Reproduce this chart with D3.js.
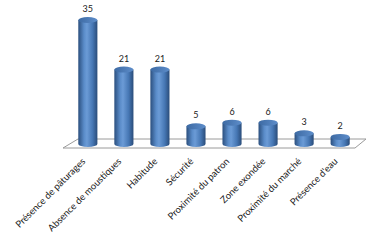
<!DOCTYPE html>
<html>
<head>
<meta charset="utf-8">
<script src="https://cdn.jsdelivr.net/npm/d3@7"></script>
<style>
  body { margin: 0; background: #fff; }
  text { font-family: Lato, "Liberation Sans", sans-serif; fill: #1a1a1a; }
</style>
</head>
<body>
<div id="chart"></div>
<script>
// categories and values
const categories = ["Présence de pâturages", "Absence de moustiques", "Habitude", "Sécurité",
                    "Proximité du patron", "Zone exondée", "Proximité du marché", "Présence d'eau"];
const values = [35, 21, 21, 5, 6, 6, 3, 2];

const width = 388, height = 247;

const svg = d3.select("#chart").append("svg")
    .attr("width", width)
    .attr("height", height);

// ranges
const x = d3.scaleBand().domain(categories).range([70, 358]).paddingInner(0.47).paddingOuter(0.23);
const y = d3.scaleLinear().domain([0, 35]).range([144, 20]);

// gradient for the cylinder body
const defs = svg.append("defs");
const grad = defs.append("linearGradient").attr("id", "cyl").attr("x1", "0").attr("x2", "1");
grad.append("stop").attr("offset", "0%").attr("stop-color", "#2b4f7e");
grad.append("stop").attr("offset", "30%").attr("stop-color", "#5a8cc9");
grad.append("stop").attr("offset", "45%").attr("stop-color", "#6b9bd6");
grad.append("stop").attr("offset", "75%").attr("stop-color", "#4677b4");
grad.append("stop").attr("offset", "100%").attr("stop-color", "#2a4c79");
const topGrad = defs.append("linearGradient").attr("id", "cyltop").attr("x1", "0").attr("x2", "1");
topGrad.append("stop").attr("offset", "0%").attr("stop-color", "#3d6aa3");
topGrad.append("stop").attr("offset", "100%").attr("stop-color", "#5d8dca");

// floor
const floorBack = 139, floorFront = 148;
svg.append("path")
    .attr("d", `M78,${floorBack} L366,${floorBack} L355,${floorFront} L63,${floorFront} Z`)
    .attr("fill", "#fff")
    .attr("stroke", "#9a9a9a")
    .attr("stroke-width", 1);

// cylinders
const ry = 3;
const bars = svg.selectAll(".bar").data(categories).enter().append("g").attr("class", "bar");
bars.each(function (c, i) {
    const g = d3.select(this);
    const x0 = x(c), w = x.bandwidth(), rx = w / 2, cx = x0 + rx;
    const top = y(values[i]), bottom = y(0);
    g.append("path")
        .attr("d", `M${x0},${top} L${x0},${bottom} A${rx},${ry} 0 0 0 ${x0 + w},${bottom} L${x0 + w},${top} Z`)
        .attr("fill", "url(#cyl)");
    g.append("ellipse")
        .attr("cx", cx).attr("cy", top)
        .attr("rx", rx).attr("ry", ry)
        .attr("fill", "url(#cyltop)");
    // value label
    g.append("text")
        .attr("x", cx).attr("y", top - 8)
        .attr("text-anchor", "middle")
        .attr("font-size", 9)
        .text(values[i]);
    // category label
    g.append("text")
        .attr("transform", `translate(${cx - 2},${162}) rotate(-45)`)
        .attr("text-anchor", "end")
        .attr("font-size", 9.5)
        .text(c);
});
</script>
</body>
</html>
